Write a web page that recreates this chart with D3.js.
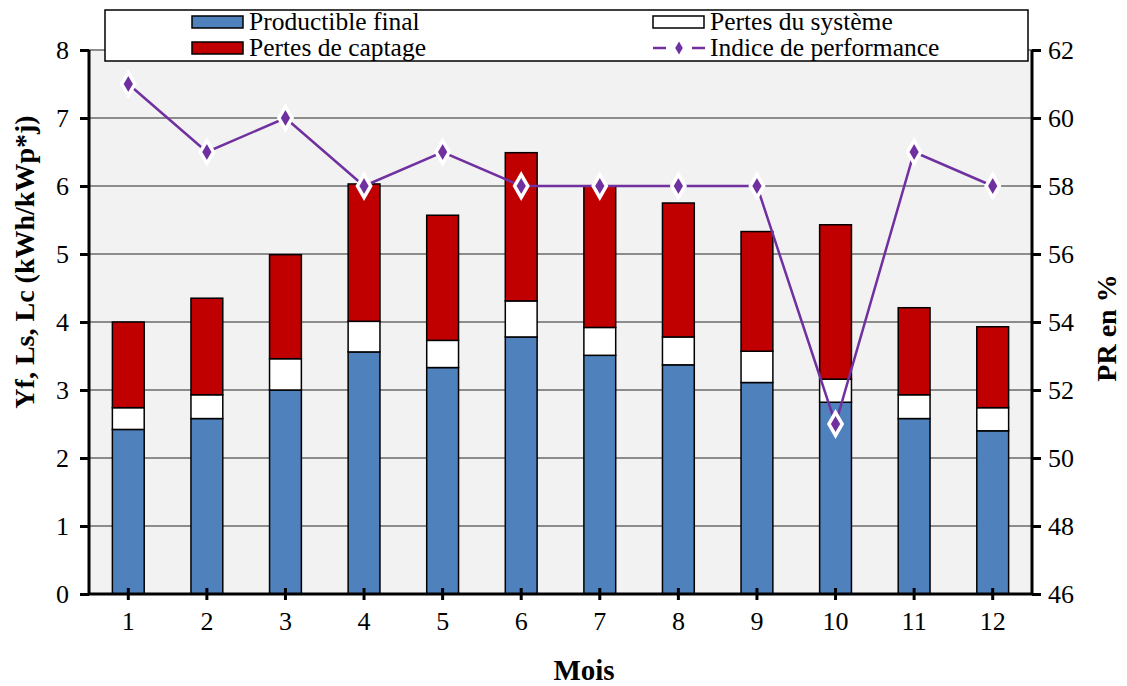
<!DOCTYPE html>
<html><head><meta charset="utf-8">
<script src="https://cdn.jsdelivr.net/npm/d3@7"></script>
<style>body{margin:0;background:#fff}svg{display:block}svg text{font-family:"Liberation Serif",Tinos,"Times New Roman",serif !important}</style>
</head><body><svg id="c" width="1127" height="686"></svg>
<script>
const months = ["1","2","3","4","5","6","7","8","9","10","11","12"];
const yf = [2.42,2.58,3.00,3.56,3.33,3.78,3.51,3.37,3.11,2.82,2.58,2.40];
const ls = [0.32,0.35,0.46,0.45,0.40,0.53,0.41,0.41,0.46,0.34,0.35,0.34];
const lc = [1.26,1.42,1.53,2.02,1.84,2.18,2.08,1.97,1.76,2.27,1.28,1.19];
const pr = [61,59,60,58,59,58,58,58,58,51,59,58];
const leftTicks = [0,1,2,3,4,5,6,7,8];
const rightTicks = [46,48,50,52,54,56,58,60,62];
const seriesNames = ["Productible final","Pertes du système","Pertes de captage","Indice de performance"];
const colors = {yf:"#4F81BD", ls:"#FFFFFF", lc:"#C00000", pr:"#7030A0"};

const svg = d3.select("#c");
const L=89, R=1032, T=50, B=594;
const x = d3.scaleBand().domain(months).range([L,R]).paddingInner(0.595).paddingOuter(0.2975);
const y = d3.scaleLinear().domain([0,8]).range([B,T]);
const y2 = d3.scaleLinear().domain([46,62]).range([B,T]);

svg.append("rect").attr("x",L).attr("y",T).attr("width",R-L).attr("height",B-T).attr("fill","#F2F2F2");
svg.append("g").selectAll("line").data(leftTicks.slice(1)).join("line")
  .attr("x1",L).attr("x2",R).attr("y1",d=>y(d)).attr("y2",d=>y(d))
  .attr("stroke","#8C8C8C").attr("stroke-width",2);

const stack = months.map((m,i)=>({m, segs:[
  {k:"yf",y0:0,y1:yf[i]},
  {k:"ls",y0:yf[i],y1:yf[i]+ls[i]},
  {k:"lc",y0:yf[i]+ls[i],y1:yf[i]+ls[i]+lc[i]}]}));
svg.append("g").selectAll("g").data(stack).join("g").each(function(d){
  d3.select(this).selectAll("rect").data(d.segs).join("rect")
    .attr("x",x(d.m)).attr("width",x.bandwidth())
    .attr("y",s=>y(s.y1)).attr("height",s=>y(s.y0)-y(s.y1))
    .attr("fill",s=>colors[s.k]).attr("stroke","#000").attr("stroke-width",1.5);
});

// axes
const fs = 26;
const ax = svg.append("g").attr("transform",`translate(${L},0)`).call(d3.axisLeft(y).tickValues(leftTicks).tickSize(9).tickPadding(11));
const ax2 = svg.append("g").attr("transform",`translate(${R},0)`).call(d3.axisRight(y2).tickValues(rightTicks).tickSize(9).tickPadding(7));
const axb = svg.append("g").attr("transform",`translate(0,${B})`).call(d3.axisBottom(x).tickSize(6).tickPadding(12));
[ax,ax2,axb].forEach(g=>{
  g.attr("font-family",null).attr("font-size",null);
  g.select(".domain").attr("stroke","#000").attr("stroke-width",3);
  g.selectAll(".tick line").attr("stroke","#000").attr("stroke-width",3);
  g.selectAll("text").style("font-size",fs+"px").attr("fill","#000");
});
axb.select(".domain").attr("d",`M${L},0H${R}`);
ax.select(".domain").attr("d",`M0,${T}V${B}`);
ax2.select(".domain").attr("d",`M0,${T}V${B}`);
axb.selectAll(".tick line").attr("y1",-6);

// line
const line = d3.line().x((d,i)=>x(months[i])+x.bandwidth()/2).y(d=>y2(d));
svg.append("path").datum(pr).attr("d",line).attr("fill","none").attr("stroke",colors.pr).attr("stroke-width",2.5);
const diamond = d3.symbol().type(d3.symbolDiamond).size(150);
svg.append("g").selectAll("path").data(pr).join("path")
  .attr("d",diamond).attr("transform",(d,i)=>`translate(${x(months[i])+x.bandwidth()/2},${y2(d)})`)
  .attr("fill",colors.pr).attr("stroke","#fff").attr("stroke-width",3.5);

// titles
svg.append("text").attr("transform",`translate(34,262) rotate(-90)`).attr("text-anchor","middle")
  .style("font-size","28px").attr("font-weight","bold").text("Yf, Ls, Lc (kWh/kWp*j)");
svg.append("text").attr("transform",`translate(1116,328) rotate(-90)`).attr("text-anchor","middle")
  .style("font-size","28px").attr("font-weight","bold").text("PR en %");
svg.append("text").attr("x",584).attr("y",680).attr("text-anchor","middle")
  .style("font-size","29px").attr("font-weight","bold").text("Mois");

// legend
const lg = svg.append("g");
lg.append("rect").attr("x",105).attr("y",10).attr("width",923).attr("height",51).attr("fill","#fff").attr("stroke","#000").attr("stroke-width",1.5);
const items = [
  {name:seriesNames[0],k:"yf",cx:192,cy:22},
  {name:seriesNames[2],k:"lc",cx:192,cy:48},
  {name:seriesNames[1],k:"ls",cx:653,cy:22},
  {name:seriesNames[3],k:"pr",cx:653,cy:48}];
items.forEach(it=>{
  if(it.k==="pr"){
    lg.append("line").attr("x1",it.cx).attr("x2",it.cx+52).attr("y1",it.cy).attr("y2",it.cy).attr("stroke",colors.pr).attr("stroke-width",2.5);
    lg.append("rect").attr("x",it.cx+13).attr("y",it.cy-2).attr("width",26).attr("height",4).attr("fill","#fff");
    lg.append("path").attr("d",d3.symbol().type(d3.symbolDiamond).size(50)).attr("transform",`translate(${it.cx+26},${it.cy})`).attr("fill",colors.pr);
  } else {
    lg.append("rect").attr("x",it.cx).attr("y",it.cy-6).attr("width",51).attr("height",12).attr("fill",colors[it.k]).attr("stroke","#000").attr("stroke-width",1.5);
  }
  lg.append("text").attr("x",it.cx+57).attr("y",it.cy+8).style("font-size","25.5px").text(it.name);
});
</script></body></html>
